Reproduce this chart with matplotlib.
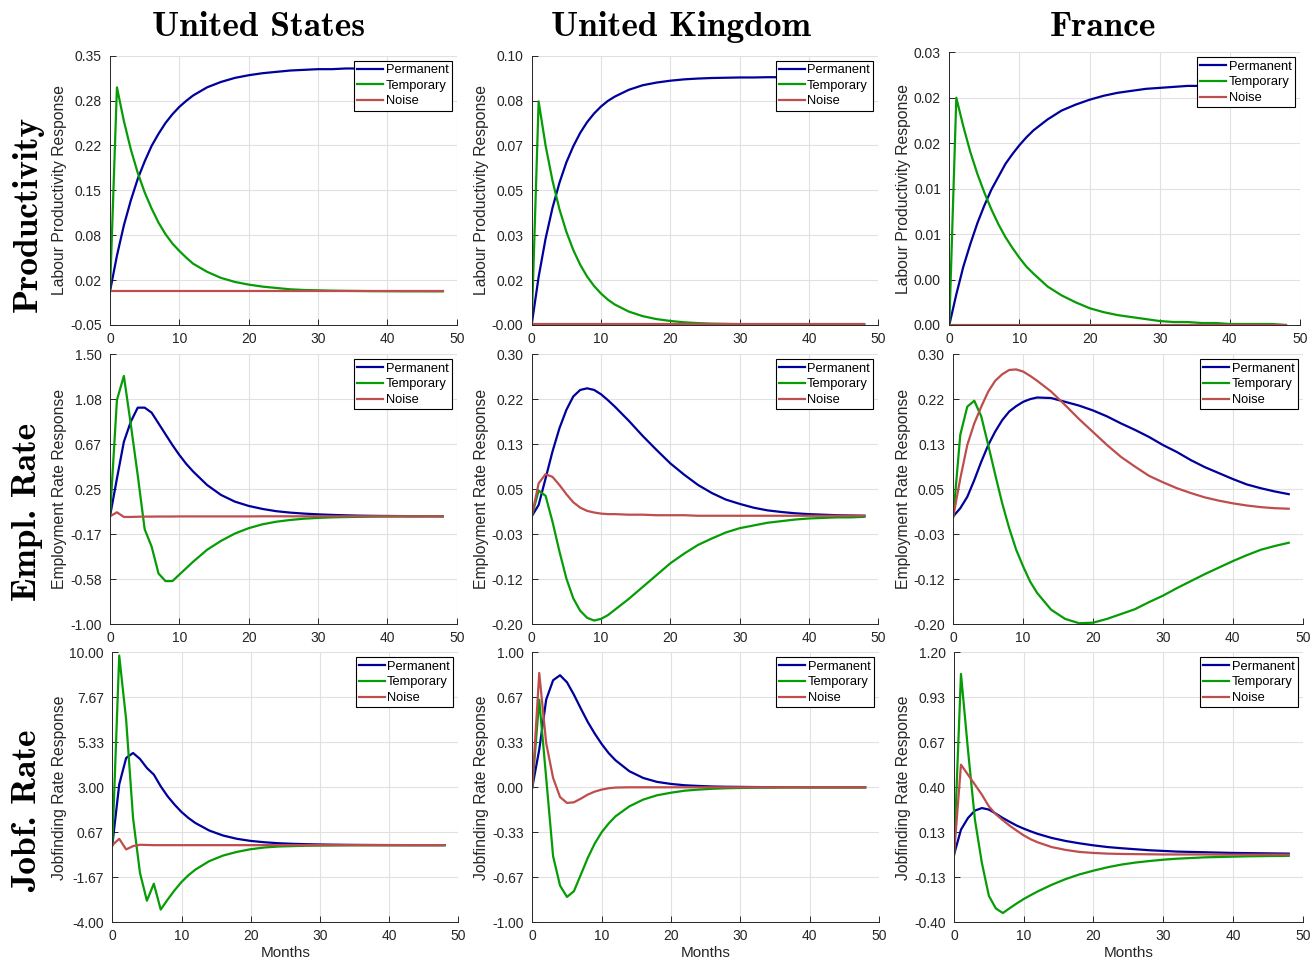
import numpy as np
import matplotlib.pyplot as plt
from matplotlib.ticker import FormatStrFormatter

plt.rcParams['font.family'] = ['Liberation Sans', 'DejaVu Sans']

# months at which the responses are read (monthly up to 12, then every 2)
months = [0, 1, 2, 3, 4, 5, 6, 7, 8, 9, 10, 11, 12,
          14, 16, 18, 20, 22, 24, 26, 28, 30, 32, 34, 36, 38, 40, 42, 44, 46, 48]

# ---- Productivity ----
us_prod_perm = [0, 0.053, 0.098, 0.135, 0.167, 0.193, 0.216, 0.234, 0.250, 0.263, 0.274, 0.283, 0.291,
                0.303, 0.311, 0.317, 0.321, 0.324, 0.326, 0.328, 0.329, 0.330, 0.330, 0.331, 0.331, 0.331, 0.331, 0.331, 0.331, 0.331, 0.331]
us_prod_temp = [0, 0.303, 0.253, 0.211, 0.176, 0.147, 0.123, 0.102, 0.085, 0.071, 0.060, 0.050, 0.041,
                0.029, 0.020, 0.014, 0.010, 0.007, 0.005, 0.003, 0.002, 0.0015, 0.001, 0.0007, 0.0005, 0.0003, 0.0002, 0.0001, 0.0001, 0, 0]
us_prod_noise = [0, 0, 0, 0, 0, 0, 0, 0, 0, 0, 0, 0, 0,
                 0, 0, 0, 0, 0, 0, 0, 0, 0, 0, 0, 0, 0, 0, 0, 0, 0, 0]

uk_prod_perm = [0, 0.0177, 0.0319, 0.0434, 0.0527, 0.0603, 0.0663, 0.0713, 0.0753, 0.0785, 0.0811, 0.0832, 0.0848,
                0.0873, 0.0890, 0.0900, 0.0907, 0.0912, 0.0915, 0.0917, 0.0918, 0.0919, 0.0919, 0.0920, 0.0920, 0.0920, 0.0920, 0.0920, 0.0920, 0.0920, 0.0920]
uk_prod_temp = [0, 0.083, 0.0666, 0.0535, 0.0429, 0.0345, 0.0277, 0.0222, 0.0178, 0.0143, 0.0115, 0.0092, 0.0074,
                0.0048, 0.0031, 0.0020, 0.0013, 0.0008, 0.0005, 0.0003, 0.0002, 0.0001, 0.0001, 0, 0, 0, 0, 0, 0, 0, 0]
uk_prod_noise = [0, 0, 0, 0, 0, 0, 0, 0, 0, 0, 0, 0, 0,
                 0, 0, 0, 0, 0, 0, 0, 0, 0, 0, 0, 0, 0, 0, 0, 0, 0, 0]

fr_prod_perm = [0, 0.0031, 0.0059, 0.0082, 0.0103, 0.0121, 0.0137, 0.0150, 0.0163, 0.0173, 0.0182, 0.0190, 0.0197,
                0.0208, 0.0217, 0.0223, 0.0228, 0.0232, 0.0235, 0.0237, 0.0239, 0.0240, 0.0241, 0.0242, 0.0242, 0.0243, 0.0243, 0.0243, 0.0244, 0.0244, 0.0244]
fr_prod_temp = [0, 0.0230, 0.0201, 0.0175, 0.0153, 0.0134, 0.0117, 0.0102, 0.0089, 0.0078, 0.0068, 0.0059, 0.0052,
                0.0039, 0.0030, 0.0023, 0.0017, 0.0013, 0.0010, 0.0008, 0.0006, 0.0004, 0.0003, 0.0003, 0.0002, 0.0002, 0.0001, 0.0001, 0.0001, 0.0001, 0]
fr_prod_noise = [0, 0, 0, 0, 0, 0, 0, 0, 0, 0, 0, 0, 0,
                 0, 0, 0, 0, 0, 0, 0, 0, 0, 0, 0, 0, 0, 0, 0, 0, 0, 0]

# ---- Employment rate ----
us_emp_perm = [0, 0.35, 0.69, 0.876, 1.006, 1.006, 0.96, 0.86, 0.76, 0.66, 0.568, 0.485, 0.414,
               0.29, 0.198, 0.136, 0.096, 0.068, 0.047, 0.034, 0.025, 0.018, 0.013, 0.009, 0.006, 0.004, 0.003, 0.002, 0.001, 0.001, 0]
us_emp_temp = [0, 1.077, 1.30, 0.85, 0.38, -0.12, -0.28, -0.53, -0.60, -0.60, -0.54, -0.48, -0.42,
               -0.31, -0.228, -0.16, -0.11, -0.074, -0.05, -0.034, -0.022, -0.015, -0.01, -0.007, -0.005, -0.003, -0.002, -0.001, -0.001, 0, 0]
us_emp_noise = [0, 0.037, -0.006, -0.006, -0.004, -0.003, -0.003, -0.002, -0.002, -0.002, -0.001, -0.001, -0.001,
                -0.001, -0.001, -0.001, -0.001, 0, 0, 0, 0, 0, 0, 0, 0, 0, 0, 0, 0, 0, 0]

uk_emp_perm = [0, 0.021, 0.070, 0.120, 0.163, 0.197, 0.222, 0.234, 0.237, 0.234, 0.226, 0.215, 0.203,
               0.177, 0.149, 0.123, 0.098, 0.077, 0.058, 0.043, 0.031, 0.023, 0.016, 0.011, 0.008, 0.0056, 0.004, 0.003, 0.002, 0.0015, 0.001]
uk_emp_temp = [0, 0.0475, 0.038, -0.010, -0.065, -0.115, -0.152, -0.175, -0.188, -0.193, -0.190, -0.183, -0.173,
               -0.153, -0.131, -0.109, -0.087, -0.069, -0.053, -0.041, -0.030, -0.022, -0.017, -0.012, -0.009, -0.006, -0.004, -0.003, -0.002, -0.002, -0.001]
uk_emp_noise = [0, 0.061, 0.078, 0.073, 0.058, 0.041, 0.026, 0.016, 0.010, 0.007, 0.005, 0.004, 0.004,
                0.003, 0.003, 0.002, 0.002, 0.002, 0.001, 0.001, 0.001, 0.001, 0.001, 0.001, 0.001, 0.001, 0.001, 0.001, 0.001, 0.001, 0.001]

fr_emp_perm = [0, 0.015, 0.036, 0.067, 0.101, 0.132, 0.157, 0.178, 0.194, 0.204, 0.212, 0.217, 0.220,
               0.219, 0.212, 0.205, 0.196, 0.185, 0.172, 0.160, 0.147, 0.132, 0.119, 0.104, 0.091, 0.080, 0.069, 0.059, 0.052, 0.046, 0.041]
fr_emp_temp = [0, 0.151, 0.203, 0.214, 0.185, 0.132, 0.077, 0.024, -0.022, -0.062, -0.093, -0.121, -0.142,
               -0.173, -0.190, -0.198, -0.197, -0.190, -0.181, -0.172, -0.159, -0.147, -0.133, -0.120, -0.107, -0.095, -0.083, -0.072, -0.062, -0.055, -0.049]
fr_emp_noise = [0, 0.070, 0.132, 0.172, 0.203, 0.231, 0.251, 0.263, 0.271, 0.272, 0.268, 0.260, 0.251,
                0.231, 0.206, 0.180, 0.156, 0.132, 0.110, 0.092, 0.075, 0.063, 0.052, 0.043, 0.035, 0.029, 0.024, 0.020, 0.017, 0.015, 0.014]

# ---- Jobfinding rate ----
us_jf_perm = [0, 3.15, 4.52, 4.78, 4.47, 4.0, 3.66, 3.05, 2.53, 2.10, 1.72, 1.41, 1.15,
              0.76, 0.50, 0.33, 0.22, 0.15, 0.10, 0.07, 0.05, 0.035, 0.025, 0.017, 0.012, 0.008, 0.005, 0.003, 0.002, 0.001, 0.001]
us_jf_temp = [0, 9.83, 6.51, 1.4, -1.44, -2.88, -2.0, -3.34, -2.82, -2.34, -1.91, -1.56, -1.27,
              -0.83, -0.54, -0.35, -0.21, -0.12, -0.07, -0.05, -0.03, -0.02, -0.013, -0.008, -0.005, -0.003, -0.002, -0.001, -0.001, 0, 0]
us_jf_noise = [0, 0.33, -0.22, -0.05, 0.02, 0.01, 0, 0, 0, 0, 0, 0, 0,
               0, 0, 0, 0, 0, 0, 0, 0, 0, 0, 0, 0, 0, 0, 0, 0, 0, 0]

uk_jf_perm = [0, 0.279, 0.649, 0.793, 0.830, 0.778, 0.686, 0.583, 0.484, 0.398, 0.321, 0.254, 0.200,
              0.119, 0.069, 0.040, 0.025, 0.015, 0.010, 0.006, 0.004, 0.003, 0.002, 0.001, 0.001, 0.001, 0, 0, 0, 0, 0]
uk_jf_temp = [0, 0.649, 0.07, -0.511, -0.728, -0.812, -0.770, -0.647, -0.523, -0.417, -0.333, -0.269, -0.215,
              -0.141, -0.091, -0.059, -0.040, -0.025, -0.017, -0.011, -0.007, -0.005, -0.003, -0.002, -0.001, 0, 0, 0, 0, 0, 0]
uk_jf_noise = [0, 0.847, 0.328, 0.069, -0.072, -0.116, -0.111, -0.084, -0.054, -0.032, -0.017, -0.007, -0.002,
               0, 0, 0, 0, 0, 0, 0, 0, 0, 0, 0, 0, 0, 0, 0, 0, 0, 0]

fr_jf_perm = [0, 0.149, 0.218, 0.262, 0.277, 0.268, 0.244, 0.218, 0.195, 0.173, 0.155, 0.139, 0.124,
              0.100, 0.082, 0.068, 0.056, 0.046, 0.039, 0.033, 0.027, 0.023, 0.019, 0.017, 0.015, 0.013, 0.011, 0.010, 0.009, 0.008, 0.007]
fr_jf_temp = [0, 1.072, 0.623, 0.208, -0.049, -0.243, -0.318, -0.345, -0.316, -0.288, -0.262, -0.239, -0.217,
              -0.178, -0.144, -0.116, -0.094, -0.074, -0.058, -0.046, -0.037, -0.029, -0.023, -0.019, -0.015, -0.013, -0.011, -0.009, -0.008, -0.007, -0.006]
fr_jf_noise = [0, 0.534, 0.475, 0.416, 0.356, 0.287, 0.240, 0.205, 0.172, 0.143, 0.115, 0.092, 0.074,
               0.046, 0.029, 0.017, 0.011, 0.007, 0.005, 0.004, 0.003, 0.002, 0.002, 0.002, 0.002, 0.001, 0.001, 0.001, 0.001, 0.001, 0.001]

countries = ['United States', 'United Kingdom', 'France']
row_names = ['Productivity', 'Empl. Rate', 'Jobf. Rate']
ylabels = ['Labour Productivity Response', 'Employment Rate Response', 'Jobfinding Rate Response']
series = [
    [(us_prod_perm, us_prod_temp, us_prod_noise), (uk_prod_perm, uk_prod_temp, uk_prod_noise), (fr_prod_perm, fr_prod_temp, fr_prod_noise)],
    [(us_emp_perm, us_emp_temp, us_emp_noise), (uk_emp_perm, uk_emp_temp, uk_emp_noise), (fr_emp_perm, fr_emp_temp, fr_emp_noise)],
    [(us_jf_perm, us_jf_temp, us_jf_noise), (uk_jf_perm, uk_jf_temp, uk_jf_noise), (fr_jf_perm, fr_jf_temp, fr_jf_noise)],
]
ylims = [
    [(-0.05, 0.35), (-0.0002, 0.10), (0, 0.0276)],
    [(-1.0, 1.5), (-0.2, 0.3), (-0.2, 0.3)],
    [(-4.0, 10.0), (-1.0, 1.0), (-0.4, 1.2)],
]

# axes boxes in pixels: left, right, top, bottom
W, H = 1311, 964
boxes = [
    [(110, 456.7, 55.7, 325), (531.7, 878.3, 55.7, 325), (949.3, 1300, 52.3, 325)],
    [(110, 456.7, 354.3, 624.3), (531.7, 878.3, 354.3, 624.3), (953.3, 1302.7, 354.3, 624.3)],
    [(112.3, 458.3, 652.3, 922.3), (532.3, 879, 652.3, 922.3), (954, 1302.7, 652.3, 922.3)],
]
ylabel_x = [67, 489, 911]
title_x = [259, 681, 1103]
row_y = [214, 512, 811]

colors = ['#00009c', '#069c06', '#be4d4d']
names = ['Permanent', 'Temporary', 'Noise']
ink = '#262626'

fig = plt.figure(figsize=(W / 100, H / 100), dpi=100)

for r in range(3):
    for c in range(3):
        x0, x1, y0, y1 = boxes[r][c]
        ax = fig.add_axes([x0 / W, 1 - y1 / H, (x1 - x0) / W, (y1 - y0) / H])
        for vals, col, name in zip(series[r][c], colors, names):
            ax.plot(months, vals, color=col, lw=1.6, label=name)
        lo, hi = ylims[r][c]
        ax.set_xlim(0, 50)
        ax.set_ylim(lo, hi)
        ax.set_xticks([0, 10, 20, 30, 40, 50])
        ax.set_yticks(np.linspace(lo, hi, 7))
        ax.yaxis.set_major_formatter(FormatStrFormatter('%.2f'))
        ax.grid(True, color='#e1e1e1', lw=0.8)
        ax.set_axisbelow(True)
        for s in ['top', 'right']:
            ax.spines[s].set_visible(False)
        for s in ['left', 'bottom']:
            ax.spines[s].set_color(ink)
            ax.spines[s].set_linewidth(0.7)
        ax.tick_params(direction='in', length=4, width=0.7, colors=ink, labelsize=10)
        ax.tick_params(axis='y', pad=6)
        ax.tick_params(axis='x', pad=5)
        ax.set_ylabel(ylabels[r], fontsize=11.3, color=ink)
        ax.yaxis.set_label_coords((ylabel_x[c] - x0) / (x1 - x0), 0.5)
        if r == 2:
            ax.set_xlabel('Months', fontsize=11, color=ink, labelpad=2)
        leg = ax.legend(loc='upper right', fontsize=9.3, frameon=True, fancybox=False,
                        edgecolor='black', framealpha=1, borderpad=0.25, labelspacing=0.28,
                        handlelength=2.0, handletextpad=0.2, borderaxespad=0.4)
        leg.get_frame().set_linewidth(0.8)

for c in range(3):
    fig.text(title_x[c] / W, 1 - 36 / H, countries[c], family='cmb10', fontsize=25.5,
             ha='center', va='baseline')
for r in range(3):
    fig.text(27.5 / W, 1 - row_y[r] / H, row_names[r], family='cmb10', fontsize=25.5,
             rotation=90, ha='center', va='center')

fig.savefig('out.png', dpi=100, facecolor='white')
